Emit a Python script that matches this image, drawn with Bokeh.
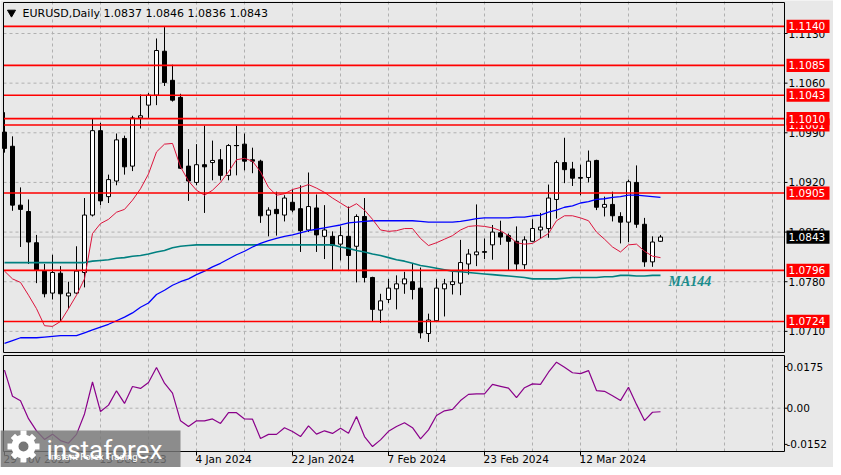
import numpy as np
from bokeh.plotting import figure
from bokeh.models import Range1d
from bokeh.core.properties import value
from bokeh.embed import file_html
from bokeh.resources import INLINE

# ---------------- data ----------------
symbol = "EURUSD"
timeframe = "Daily"

opens = [1.0991, 1.0971, 1.0888, 1.0879, 1.0835, 1.0795, 1.0764, 1.0792, 1.0760, 1.0764,
         1.0793, 1.0874, 1.0993, 1.0900, 1.0922, 1.0982, 1.0943, 1.1011, 1.1029, 1.1043,
         1.1105, 1.1064, 1.1040, 1.0943, 1.0920, 1.0945, 1.0948, 1.0952, 1.0930, 1.0972,
         1.0974, 1.0952, 1.0950, 1.0874, 1.0882, 1.0874, 1.0892, 1.0883, 1.0853, 1.0884,
         1.0844, 1.0844, 1.0833, 1.0844, 1.0830, 1.0872, 1.0786, 1.0740, 1.0755, 1.0770,
         1.0777, 1.0780, 1.0771, 1.0707, 1.0725, 1.0770, 1.0776, 1.0778, 1.0805, 1.0818,
         1.0822, 1.0832, 1.0849, 1.0845, 1.0837, 1.0804, 1.0837, 1.0853, 1.0855, 1.0896,
         1.0948, 1.0939, 1.0927, 1.0927, 1.0951, 1.0885, 1.0889, 1.0872, 1.0864, 1.0920,
         1.0861, 1.0808, 1.0837]
highs = [1.1019, 1.0985, 1.0913, 1.0896, 1.0846, 1.0805, 1.0818, 1.0802, 1.0780, 1.0830,
         1.0898, 1.1010, 1.1004, 1.0931, 1.0989, 1.0986, 1.1014, 1.1044, 1.1046, 1.1123,
         1.1139, 1.1086, 1.1045, 1.0967, 1.0974, 1.1000, 1.0979, 1.0967, 1.0974, 1.1000,
         1.0989, 1.0969, 1.0952, 1.0885, 1.0907, 1.0902, 1.0910, 1.0916, 1.0934, 1.0903,
         1.0888, 1.0851, 1.0858, 1.0886, 1.0875, 1.0898, 1.0787, 1.0763, 1.0784, 1.0789,
         1.0794, 1.0805, 1.0800, 1.0735, 1.0784, 1.0784, 1.0795, 1.0839, 1.0826, 1.0889,
         1.0841, 1.0860, 1.0866, 1.0848, 1.0858, 1.0844, 1.0868, 1.0877, 1.0917, 1.0951,
         1.0983, 1.0949, 1.0945, 1.0965, 1.0952, 1.0900, 1.0907, 1.0878, 1.0924, 1.0944,
         1.0870, 1.0844, 1.0846]
lows = [1.0962, 1.0880, 1.0829, 1.0805, 1.0778, 1.0758, 1.0755, 1.0724, 1.0742, 1.0763,
        1.0772, 1.0872, 1.0888, 1.0891, 1.0916, 1.0931, 1.0936, 1.0996, 1.1011, 1.1029,
        1.1056, 1.1034, 1.0939, 1.0894, 1.0916, 1.0877, 1.0923, 1.0923, 1.0923, 1.0930,
        1.0937, 1.0933, 1.0863, 1.0844, 1.0845, 1.0865, 1.0878, 1.0822, 1.0850, 1.0822,
        1.0812, 1.0796, 1.0810, 1.0795, 1.0779, 1.0779, 1.0724, 1.0722, 1.0750, 1.0741,
        1.0763, 1.0755, 1.0700, 1.0695, 1.0724, 1.0731, 1.0762, 1.0761, 1.0790, 1.0802,
        1.0812, 1.0811, 1.0832, 1.0796, 1.0796, 1.0798, 1.0837, 1.0841, 1.0842, 1.0869,
        1.0919, 1.0915, 1.0902, 1.0920, 1.0881, 1.0872, 1.0865, 1.0834, 1.0836, 1.0856,
        1.0801, 1.0801, 1.0836]
closes = [1.0968, 1.0888, 1.0882, 1.0836, 1.0796, 1.0763, 1.0793, 1.0763, 1.0764, 1.0795,
          1.0874, 1.0993, 1.0894, 1.0924, 1.0980, 1.0942, 1.1011, 1.1014, 1.1043, 1.1106,
          1.1061, 1.1036, 1.0940, 1.0922, 1.0945, 1.0942, 1.0951, 1.0930, 1.0972, 1.0972,
          1.0950, 1.0950, 1.0873, 1.0881, 1.0876, 1.0898, 1.0881, 1.0852, 1.0886, 1.0846,
          1.0853, 1.0831, 1.0845, 1.0817, 1.0872, 1.0786, 1.0741, 1.0753, 1.0771, 1.0777,
          1.0784, 1.0769, 1.0708, 1.0726, 1.0771, 1.0777, 1.0780, 1.0807, 1.0819, 1.0822,
          1.0822, 1.0850, 1.0843, 1.0837, 1.0805, 1.0839, 1.0855, 1.0857, 1.0898, 1.0948,
          1.0938, 1.0926, 1.0926, 1.0950, 1.0885, 1.0889, 1.0873, 1.0864, 1.0921, 1.0861,
          1.0808, 1.0836, 1.0843]

ma_fast = [1.0795, 1.0784, 1.0779, 1.0761, 1.0742, 1.0718, 1.0717, 1.0724, 1.0742, 1.0761,
           1.0784, 1.0848, 1.0862, 1.0868, 1.0878, 1.0882, 1.0895, 1.0911, 1.0932, 1.0963,
           1.0974, 1.0975, 1.0942, 1.0922, 1.0909, 1.0902, 1.0909, 1.0920, 1.0935, 1.0952,
           1.0954, 1.0950, 1.0935, 1.0913, 1.0902, 1.0904, 1.0910, 1.0913, 1.0917, 1.0912,
           1.0906, 1.0898, 1.0891, 1.0884, 1.0890, 1.0881, 1.0868, 1.0853, 1.0851, 1.0852,
           1.0855, 1.0855, 1.0841, 1.0831, 1.0835, 1.0840, 1.0845, 1.0853, 1.0858, 1.0859,
           1.0858, 1.0856, 1.0852, 1.0845, 1.0835, 1.0833, 1.0834, 1.0841, 1.0848, 1.0866,
           1.0873, 1.0873, 1.0870, 1.0866, 1.0850, 1.0840, 1.0829, 1.0822, 1.0832, 1.0833,
           1.0823, 1.0816, 1.0814]
ma_blue = [1.0693, 1.0697, 1.0701, 1.0701, 1.0701, 1.0702, 1.0703, 1.0704, 1.0704, 1.0704,
           1.0708, 1.0712, 1.0716, 1.0720, 1.0725, 1.0730, 1.0736, 1.0744, 1.0750, 1.0762,
           1.0768, 1.0775, 1.0780, 1.0784, 1.0790, 1.0795, 1.0801, 1.0806, 1.0812, 1.0818,
           1.0823, 1.0829, 1.0834, 1.0838, 1.0841, 1.0844, 1.0846, 1.0849, 1.0852, 1.0854,
           1.0856, 1.0858, 1.0860, 1.0863, 1.0864, 1.0865, 1.0866, 1.0866, 1.0866, 1.0866,
           1.0866, 1.0866, 1.0865, 1.0864, 1.0864, 1.0864, 1.0864, 1.0865, 1.0867, 1.0869,
           1.0870, 1.0870, 1.0870, 1.0870, 1.0871, 1.0871, 1.0873, 1.0874, 1.0878, 1.0881,
           1.0885, 1.0887, 1.0891, 1.0893, 1.0896, 1.0897, 1.0899, 1.0900, 1.0902, 1.0902,
           1.0901, 1.0900, 1.0899]
ma144 = [1.0807, 1.0807, 1.0807, 1.0807, 1.0807, 1.0807, 1.0807, 1.0807, 1.0807, 1.0807,
         1.0807, 1.0809, 1.0810, 1.0811, 1.0813, 1.0814, 1.0816, 1.0817, 1.0819, 1.0822,
         1.0824, 1.0828, 1.0830, 1.0831, 1.0832, 1.0832, 1.0832, 1.0832, 1.0832, 1.0832,
         1.0832, 1.0832, 1.0832, 1.0832, 1.0832, 1.0832, 1.0832, 1.0832, 1.0832, 1.0832,
         1.0832, 1.0832, 1.0829, 1.0827, 1.0824, 1.0822, 1.0819, 1.0817, 1.0814, 1.0811,
         1.0809, 1.0806, 1.0803, 1.0801, 1.0799, 1.0797, 1.0795, 1.0794, 1.0793, 1.0792,
         1.0791, 1.0790, 1.0789, 1.0788, 1.0787, 1.0786, 1.0784, 1.0784, 1.0784, 1.0784,
         1.0785, 1.0786, 1.0786, 1.0786, 1.0786, 1.0787, 1.0787, 1.0789, 1.0789, 1.0788,
         1.0788, 1.0789, 1.0789]
marlin = [0.0160, 0.0050, 0.0031, -0.0044, -0.0095, -0.0131, -0.0109, -0.0136, -0.0147, -0.0110,
          -0.0024, 0.0110, -0.0014, 0.0013, 0.0073, 0.0020, 0.0091, 0.0083, 0.0108, 0.0171,
          0.0105, 0.0063, -0.0053, -0.0077, -0.0053, -0.0053, -0.0045, -0.0064, -0.0019, -0.0019,
          -0.0045, -0.0046, -0.0127, -0.0110, -0.0110, -0.0082, -0.0098, -0.0119, -0.0074, -0.0109,
          -0.0095, -0.0106, -0.0084, -0.0105, -0.0035, -0.0119, -0.0161, -0.0133, -0.0097, -0.0077,
          -0.0061, -0.0082, -0.0129, -0.0091, -0.0031, -0.0011, -0.0005, 0.0032, 0.0058, 0.0060,
          0.0060, 0.0100, 0.0092, 0.0084, 0.0044, 0.0086, 0.0102, 0.0100, 0.0151, 0.0193,
          0.0172, 0.0149, 0.0145, 0.0158, 0.0074, 0.0071, 0.0052, 0.0032, 0.0088, 0.0016,
          -0.0052, -0.0017, -0.0015]

date_index = [0, 12, 24, 36, 48, 60, 72]
date_labels = ["29 Nov 2023", "15 Dec 2023", "4 Jan 2024", "22 Jan 2024",
               "7 Feb 2024", "23 Feb 2024", "12 Mar 2024"]
price_ticks = [1.0710, 1.0780, 1.0850, 1.0920, 1.0990, 1.1060, 1.1130]
price_tick_labels = ["1.0710", "1.0780", "1.0850", "1.0920", "1.0990", "1.1060", "1.1130"]
levels = [1.1140, 1.1085, 1.1043, 1.1001, 1.1010, 1.0905, 1.0796, 1.0724]
level_labels = ["1.1140", "1.1085", "1.1043", "1.1001", "1.1010", "1.0905", "1.0796", "1.0724"]
marlin_ticks = [0.0175, 0.0, -0.0152]
marlin_tick_labels = ["0.0175", "0.00", "-0.0152"]
marlin_name = "Marlin"
ma_label = "MA144"

# ---------------- layout helpers (reference pixel -> data) ----------------
W, H = 833, 467
def X(px):
    return (px - 4) / 8.0
def P(py):
    return 1.1130 - (py - 33) * 0.000141
def M(py):
    return (407.7 - py) * 0.00042

BG = "#e8e8e8"
FONT = value("DejaVu Sans")
FS = "11px"
FSR = "10.5px"

p = figure(width=W, height=H, output_backend="svg", toolbar_location=None,
           x_range=Range1d(X(0), X(W)), y_range=Range1d(P(H), P(0)),
           x_axis_location=None, y_axis_location=None, min_border=0)
p.extra_y_ranges = {"m": Range1d(M(H), M(0))}
p.xgrid.grid_line_color = None
p.ygrid.grid_line_color = None
p.outline_line_color = None
p.background_fill_color = BG
p.border_fill_color = BG

idx = np.arange(len(opens))
o = np.array(opens); h = np.array(highs); l = np.array(lows); c = np.array(closes)

L, R = X(3), X(784)
grid_x = np.arange(6, 97, 6)
GC = "#b0b0b0"

# grids
p.segment(x0=grid_x, y0=P(352), x1=grid_x, y1=P(0), line_color=GC, line_dash="3 3", line_width=1)
p.segment(x0=grid_x, y0=M(451), x1=grid_x, y1=M(355), line_color=GC, line_dash="3 3",
          line_width=1, y_range_name="m")
p.segment(x0=L, y0=price_ticks, x1=R, y1=price_ticks, line_color=GC, line_dash="3 3", line_width=1)
p.segment(x0=L, y0=[0.0], x1=R, y1=[0.0], line_color=GC, line_dash="3 3", line_width=1,
          y_range_name="m")
# current price line
p.segment(x0=L, y0=[closes[-1]], x1=R, y1=[closes[-1]], line_color="#c4c4c4", line_width=1)

# candles
p.segment(x0=idx, y0=h, x1=idx, y1=l, line_color="black", line_width=1)
cols = np.where(c > o, "white", "black")
p.vbar(x=idx, width=0.5, top=np.maximum(o, c), bottom=np.minimum(o, c),
       fill_color=cols, line_color="black", line_width=1)
doji = idx[o == c]
p.segment(x0=doji - 0.32, y0=o[o == c], x1=doji + 0.32, y1=o[o == c], line_color="black", line_width=1)

# moving averages
p.line(idx, ma144, line_color="#008080", line_width=1.6)
p.line(idx, ma_blue, line_color="#0000ff", line_width=1.3)
p.line(idx, ma_fast, line_color="#dc143c", line_width=1)

# horizontal levels
p.segment(x0=L, y0=levels, x1=R, y1=levels, line_color="#ff0000", line_width=1.6)

p.text(x=[X(668)], y=[P(281)], text=[ma_label], text_font=value("Liberation Serif"),
       text_font_style="bold italic", text_font_size="14px", text_color="#1a8c8c",
       text_align="left", text_baseline="middle")

# panel frames
p.quad(left=[L], right=[R], top=[P(2)], bottom=[P(352)], fill_color=None, line_color="black", line_width=1)
p.quad(left=[L], right=[R], top=[M(355)], bottom=[M(451)], fill_color=None, line_color="black",
       line_width=1, y_range_name="m")

# marlin line
p.line(idx, marlin, line_color="#8a008a", line_width=1.2, y_range_name="m")
p.text(x=[X(7)], y=[M(367)], text=[f"{marlin_name} {marlin[-1]:.4f}"], text_font=FONT,
       text_font_size=FS, text_color="black", text_align="left", text_baseline="middle")

# right price scale
p.segment(x0=R, y0=price_ticks, x1=X(787), y1=price_ticks, line_color="black", line_width=1)
p.text(x=X(788), y=price_ticks, text=price_tick_labels, text_font=FONT, text_font_size=FSR,
       text_color="black", text_align="left", text_baseline="middle")
hb = 6.6 * 0.000141
for lv, lab in zip(levels, level_labels):
    p.quad(left=[X(786)], right=[X(829)], top=[lv + hb], bottom=[lv - hb],
           fill_color="#ff0000", line_color=None)
    p.text(x=[X(788)], y=[lv], text=[lab], text_font=FONT, text_font_size=FSR,
           text_color="white", text_align="left", text_baseline="middle")
p.quad(left=[X(786)], right=[X(829)], top=[closes[-1] + hb], bottom=[closes[-1] - hb],
       fill_color="black", line_color=None)
p.text(x=[X(788)], y=[closes[-1]], text=[f"{closes[-1]:.4f}"], text_font=FONT, text_font_size=FSR,
       text_color="white", text_align="left", text_baseline="middle")

# marlin scale
p.segment(x0=R, y0=marlin_ticks, x1=X(787), y1=marlin_ticks, line_color="black", line_width=1,
          y_range_name="m")
p.text(x=X(786), y=marlin_ticks, text=marlin_tick_labels, text_font=FONT, text_font_size=FSR,
       text_color="black", text_align="left", text_baseline="middle", y_range_name="m")

# date scale
p.segment(x0=date_index, y0=M(451), x1=date_index, y1=M(455), line_color="black", line_width=1,
          y_range_name="m")
p.text(x=date_index, y=M(458.5), text=date_labels, text_font=FONT, text_font_size=FSR,
       text_color="black", text_align="left", text_baseline="middle", x_offset=-1,
       y_range_name="m")

# title
p.scatter(x=[X(11)], y=[P(12)], marker="inverted_triangle", size=8, fill_color="black",
          line_color="black")
p.text(x=[X(22)], y=[P(12.5)], text=[f"{symbol},{timeframe}"], text_font=FONT,
       text_font_size=FS, text_color="black", text_align="left", text_baseline="middle")
p.text(x=[X(103)], y=[P(12.5)],
       text=[f"{opens[-1]:.4f} {highs[-1]:.4f} {lows[-1]:.4f} {closes[-1]:.4f}"],
       text_font=FONT, text_font_size=FS, text_color="black", text_align="left",
       text_baseline="middle")

# watermark
WM = "#777777"
p.quad(left=[X(0)], right=[X(180)], top=[P(430)], bottom=[P(476)], fill_color=WM,
       fill_alpha=0.82, line_color=None)
p.scatter(x=[X(23)], y=[P(446)], marker="cross", size=32, line_color="white", line_width=6)
p.scatter(x=[X(23)], y=[P(446)], marker="x", size=30, line_color="white", line_width=6)
p.scatter(x=[X(23)], y=[P(446)], marker="circle", size=24, fill_color="white", line_color=None)
p.scatter(x=[X(23)], y=[P(446)], marker="circle", size=10, fill_color=WM, line_color=None)
p.text(x=[X(46)], y=[P(449)], text=["instaforex"], text_font=value("Roboto"),
       text_font_size="26px", text_color="white", text_align="left", text_baseline="alphabetic")
p.text(x=[X(48)], y=[P(455.5)], text=["Instant Forex Trading"], text_font=value("Roboto"),
       text_font_size="9.5px", text_color="white", text_align="left", text_baseline="middle")

open("out.html", "w").write(file_html(p, INLINE))
